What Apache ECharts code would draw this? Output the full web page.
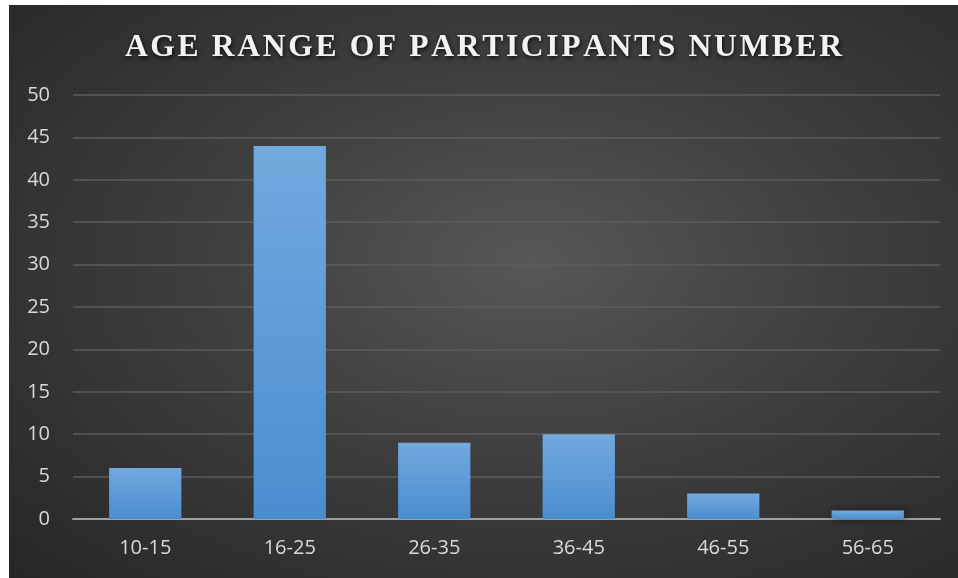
<!DOCTYPE html>
<html>
<head>
<meta charset="utf-8">
<script src="https://cdn.jsdelivr.net/npm/echarts@6/dist/echarts.min.js"></script>
<style>
  html, body { margin: 0; padding: 0; background: #fff; }
  #main {
    position: absolute; left: 9px; top: 5px; width: 949px; height: 573px;
    background: radial-gradient(ellipse at 55% 45%, #575757 0%, #3e3e3e 45%, #262626 100%);
  }
</style>
</head>
<body>
<div id="main"></div>
<script>
// age ranges and counts
var categories = ['10-15', '16-25', '26-35', '36-45', '46-55', '56-65'];
var participants = [6, 44, 9, 10, 3, 1];
var chartTitle = 'AGE RANGE OF PARTICIPANTS NUMBER';

var myChart = echarts.init(document.getElementById('main'));
myChart.setOption({
  backgroundColor: 'transparent',
  title: {
    // hair spaces between letters give the wide tracking of the original
    text: chartTitle.split('').join('\u200A'),
    left: 'center',
    top: 22,
    textStyle: {
      fontFamily: 'Liberation Serif',
      fontWeight: 'bold',
      fontSize: 31.6,
      color: '#f2f2f2',
      textShadowColor: 'rgba(0,0,0,0.8)',
      textShadowBlur: 4,
      textShadowOffsetX: 1,
      textShadowOffsetY: 2
    }
  },
  grid: { left: 64, right: 18, top: 90, bottom: 59 },
  xAxis: {
    type: 'category',
    data: categories,
    axisLine: { lineStyle: { color: '#a0a0a0', width: 2 } },
    axisTick: { show: false },
    axisLabel: { color: '#d9d9d9', fontSize: 20, fontFamily: 'Open Sans', margin: 19 }
  },
  yAxis: {
    type: 'value',
    min: 0,
    max: 50,
    interval: 5,
    axisLine: { show: false },
    axisTick: { show: false },
    axisLabel: { color: '#d9d9d9', fontSize: 20, fontFamily: 'Open Sans', margin: 23 },
    splitLine: { lineStyle: { color: '#5c5c5c', width: 1.5 } }
  },
  series: [{
    name: 'Participants',
    type: 'bar',
    data: participants,
    barWidth: '50%',
    itemStyle: {
      color: new echarts.graphic.LinearGradient(0, 0, 0, 1, [
        { offset: 0, color: '#72a9de' },
        { offset: 1, color: '#4a8dcf' }
      ]),
      shadowColor: 'rgba(0,0,0,0.5)',
      shadowBlur: 8,
      shadowOffsetX: 2,
      shadowOffsetY: 0
    }
  }]
});
</script>
</body>
</html>
